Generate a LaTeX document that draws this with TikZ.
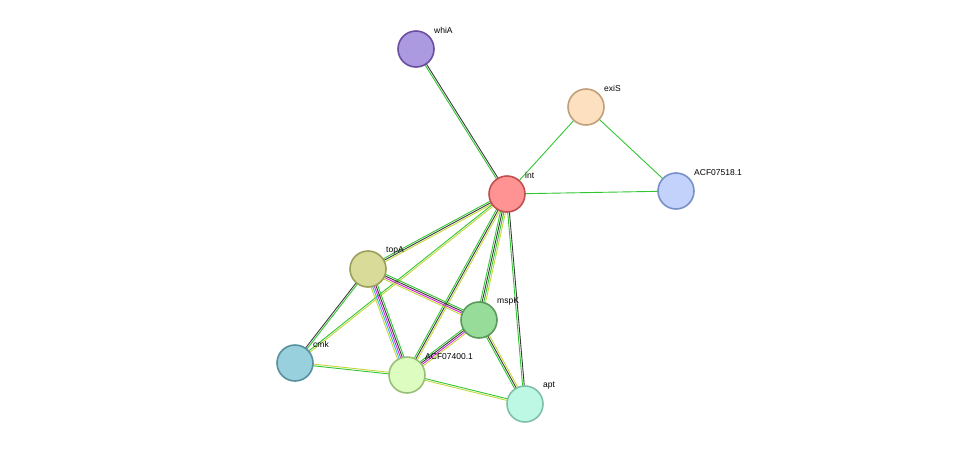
\documentclass[tikz,border=0pt]{standalone}
\usepackage{fontspec}
\setmainfont{Liberation Sans}
\usetikzlibrary{calc}
\definecolor{eg}{HTML}{33C633}
\definecolor{ed}{HTML}{3A3A3A}
\definecolor{ey}{HTML}{C4D83C}
\definecolor{em}{HTML}{DD22DD}
\definecolor{eb}{HTML}{33B8DD}
\definecolor{fwhiA}{HTML}{AB9AE0}\definecolor{bwhiA}{HTML}{6A4FA0}
\definecolor{fexiS}{HTML}{FDE0C0}\definecolor{bexiS}{HTML}{C0A07A}
\definecolor{fint}{HTML}{FF9292}\definecolor{bint}{HTML}{C05050}
\definecolor{facfa}{HTML}{C2D2FA}\definecolor{bacfa}{HTML}{7890C8}
\definecolor{ftopA}{HTML}{D8DC98}\definecolor{btopA}{HTML}{9AA05A}
\definecolor{fmspK}{HTML}{98DC9A}\definecolor{bmspK}{HTML}{5A9A5C}
\definecolor{fcmk}{HTML}{98D0DE}\definecolor{bcmk}{HTML}{58909E}
\definecolor{facfb}{HTML}{DCFCC0}\definecolor{bacfb}{HTML}{98C078}
\definecolor{fapt}{HTML}{BCF8E4}\definecolor{bapt}{HTML}{80C0A8}
\tikzset{
  prot/.style={circle, draw=b#1, fill=f#1, line width=1.6pt, minimum size=36pt, inner sep=0pt},
  plabel/.style={anchor=south west, inner sep=1pt, font=\fontsize{8.5}{10}\selectfont}
}
% parallel coloured lines between two proteins
\newcommand{\evid}[3]{%
  \foreach \c [count=\i] in {#3} {\global\let\nlines\i}%
  \foreach \c [count=\i] in {#3} {%
    \pgfmathsetmacro{\off}{(\i-(\nlines+1)/2)*1.7}%
    \draw[\c, line width=0.9pt] ($(#1)!\off pt!90:(#2)$) -- ($(#2)!\off pt!-90:(#1)$);
  }}
\begin{document}
\begin{tikzpicture}[x=1pt, y=-1pt]
\useasboundingbox (0,0) rectangle (975,450);
\coordinate (whiA) at (416,49);
\coordinate (exiS) at (586,107);
\coordinate (int) at (507,194);
\coordinate (acfa) at (676,191);
\coordinate (topA) at (368,269);
\coordinate (mspK) at (479,320);
\coordinate (cmk) at (295,363);
\coordinate (acfb) at (407,375);
\coordinate (apt) at (525,404);
% edges
\evid{int}{whiA}{ed,eg}
\evid{int}{exiS}{eg}
\evid{exiS}{acfa}{eg}
\evid{int}{acfa}{eg}
\evid{int}{topA}{eg,ed,ey}
\evid{int}{cmk}{eg,ey}
\evid{int}{acfb}{eg,ed,ey}
\evid{int}{mspK}{eg,ed,eg,ey}
\evid{int}{apt}{eg,ed}
\evid{topA}{cmk}{ed,eg}
\evid{topA}{acfb}{ey,eb,em,ed,eg}
\evid{topA}{mspK}{ey,em,ed,eg}
\evid{mspK}{acfb}{eg,ed,em,ey}
\evid{mspK}{apt}{eg,ed,ey}
\evid{cmk}{acfb}{eg,ey}
\evid{acfb}{apt}{ey,eg}
% proteins
\node[prot=whiA] (nwhiA) at (whiA) {};
\node[prot=exiS] (nexiS) at (exiS) {};
\node[prot=int] (nint) at (int) {};
\node[prot=acfa] (nacfa) at (acfa) {};
\node[prot=topA] (ntopA) at (topA) {};
\node[prot=mspK] (nmspK) at (mspK) {};
\node[prot=cmk] (ncmk) at (cmk) {};
\node[prot=acfb] (nacfb) at (acfb) {};
\node[prot=apt] (napt) at (apt) {};
% labels
\node[plabel] at (433,35) {whiA};
\node[plabel] at (603,93) {exiS};
\node[plabel] at (524,180) {int};
\node[plabel] at (693,177) {ACF07518.1};
\node[plabel] at (385,255) {topA};
\node[plabel] at (496,306) {mspK};
\node[plabel] at (312,349) {cmk};
\node[plabel] at (424,361) {ACF07400.1};
\node[plabel] at (542,390) {apt};
\end{tikzpicture}
\end{document}
